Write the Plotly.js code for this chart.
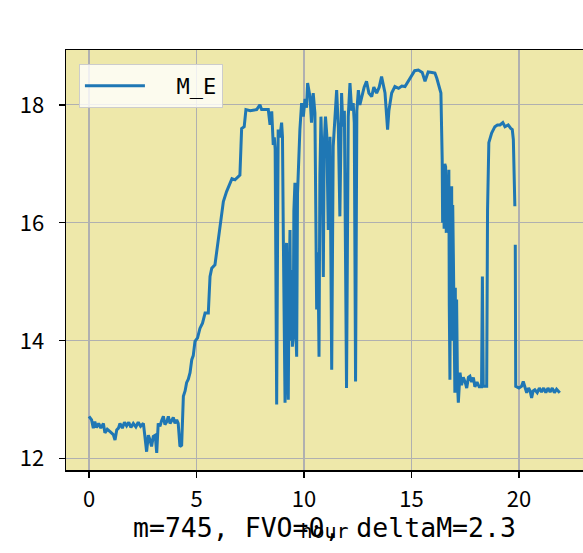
<!DOCTYPE html>
<html>
<head>
<meta charset="utf-8">
<script src="https://cdn.plot.ly/plotly-3.0.1.min.js"></script>
<style>html,body{margin:0;padding:0;background:#fff;}#chart{width:583px;height:553px;}</style>
</head>
<body>
<div id="chart"></div>
<script>
const seriesName = "\u00a0\u00a0M_E";
const hours = [
  0.00,0.12,0.20,0.27,0.35,0.45,0.55,0.67,0.74,0.85,0.98,1.13,1.21,1.29,1.37,1.44,1.55,1.65,1.75,1.85,
  1.95,2.06,2.18,2.29,2.40,2.53,2.60,2.68,2.76,2.84,2.91,2.99,3.08,3.15,3.22,3.30,3.38,3.46,3.53,3.62,
  3.69,3.77,3.85,3.92,4.00,4.08,4.15,4.23,4.31,4.36,4.39,4.47,4.54,4.62,4.70,4.78,4.85,4.93,5.05,5.16,
  5.28,5.40,5.55,5.63,5.71,5.86,5.94,6.09,6.18,6.25,6.40,6.56,6.65,6.79,6.95,7.02,7.07,7.10,7.22,7.30,
  7.50,7.80,7.95,8.03,8.20,8.34,8.42,8.50,8.57,8.62,8.66,8.73,8.80,8.88,8.96,9.00,9.04,9.08,9.12,9.16,
  9.19,9.22,9.27,9.30,9.35,9.38,9.42,9.46,9.50,9.53,9.58,9.62,9.66,9.70,9.74,9.81,9.89,9.97,10.05,10.12,
  10.17,10.28,10.35,10.43,10.51,10.59,10.65,10.70,10.74,10.79,10.85,10.90,10.94,11.00,11.06,11.13,11.21,11.29,11.36,11.44,
  11.52,11.60,11.67,11.75,11.81,11.88,11.98,12.06,12.14,12.22,12.29,12.34,12.40,12.46,12.53,12.60,12.68,12.80,12.91,13.02,
  13.15,13.25,13.38,13.50,13.61,13.70,13.77,13.89,13.95,14.08,14.23,14.40,14.55,14.70,14.85,15.01,15.15,15.32,15.50,15.63,
  15.78,15.95,16.09,16.18,16.25,16.37,16.43,16.45,16.48,16.52,16.55,16.59,16.62,16.64,16.67,16.70,16.74,16.76,16.79,16.82,
  16.84,16.87,16.90,16.92,16.95,16.99,17.02,17.04,17.06,17.10,17.12,17.14,17.18,17.22,17.26,17.33,17.41,17.50,17.57,17.65,
  17.72,17.80,17.88,17.95,18.05,18.15,18.26,18.30,18.34,18.50,18.54,18.60,18.73,18.88,19.00,19.12,19.25,19.35,19.50,19.62,
  19.69,19.74,19.81,19.82,19.83,19.85,20.00,20.12,20.20,20.30,20.36,20.45,20.52,20.59,20.66,20.74,20.85,20.95,21.05,21.15,
  21.25,21.35,21.45,21.55,21.65,21.75,21.90
];
const mE = [
  12.72,12.66,12.52,12.63,12.53,12.60,12.52,12.60,12.44,12.50,12.46,12.41,12.32,12.49,12.52,12.60,12.52,12.62,12.56,12.62,
  12.53,12.60,12.54,12.62,12.55,12.60,12.38,12.12,12.40,12.32,12.21,12.38,12.40,12.10,12.60,12.55,12.65,12.72,12.58,12.63,
  12.72,12.60,12.65,12.70,12.60,12.66,12.60,12.21,12.23,12.70,13.06,13.15,13.29,13.35,13.46,13.68,13.75,13.99,14.05,14.21,
  14.30,14.47,14.47,15.09,15.23,15.29,15.51,15.85,16.10,16.36,16.53,16.67,16.75,16.73,16.79,16.81,17.30,17.60,17.63,17.92,
  17.90,17.92,18.00,17.92,17.92,17.92,17.66,17.89,17.32,17.45,17.25,12.92,17.58,17.45,17.70,17.46,15.76,13.40,12.95,15.50,
  15.66,13.60,13.00,14.80,15.88,14.00,15.20,13.90,14.07,16.20,16.68,14.20,13.73,16.50,17.00,17.58,18.03,17.80,18.10,17.95,
  18.37,18.14,17.70,18.20,17.86,14.53,15.50,13.73,16.80,17.80,17.00,15.08,17.30,17.80,17.50,15.88,17.46,13.51,17.30,17.75,
  18.25,17.60,16.11,18.20,17.63,17.90,13.20,17.80,18.37,17.90,18.03,17.70,13.31,17.90,18.25,18.00,18.14,18.30,18.40,18.20,
  18.14,18.30,18.20,18.30,18.48,18.30,18.20,17.58,17.90,18.20,18.31,18.28,18.32,18.31,18.40,18.51,18.58,18.59,18.55,18.40,
  18.56,18.55,18.54,18.45,18.37,18.20,17.07,16.00,16.90,15.90,17.00,16.95,15.83,16.60,15.90,16.70,16.90,14.60,13.34,16.00,
  16.20,16.62,14.00,16.30,15.43,13.60,13.12,14.90,13.40,14.70,13.80,13.30,12.95,13.40,13.46,13.25,13.38,13.30,13.20,13.38,
  13.40,13.30,13.38,13.22,13.30,13.22,13.22,15.09,13.23,13.23,16.22,17.36,17.52,17.63,17.66,17.66,17.70,17.63,17.66,17.60,
  17.58,17.41,16.28,null,15.63,13.23,13.20,13.23,13.31,13.20,13.12,13.20,13.15,13.03,13.15,13.17,13.12,13.20,13.13,13.20,
  13.12,13.20,13.13,13.20,13.12,13.18,13.12
];
const xTicks = [0, 5, 10, 15, 20];
const yTicks = [12, 14, 16, 18];
const xLabel = "hour";
const noteText = "m=745, FVO=0, deltaM=2.3";

const tickFont = {family: "'Noto Sans CJK SC', 'Noto Sans', sans-serif", size: 22, color: "#000"};
const monoFont = "'DejaVu Sans Mono', 'Liberation Mono', monospace";

const trace = {
  x: hours, y: mE, type: "scatter", mode: "lines", name: seriesName,
  line: {color: "#1f77b4", width: 3}, connectgaps: false
};

const axisCommon = {
  showgrid: true, gridcolor: "#b0b0b0", gridwidth: 1.2,
  showline: true, linecolor: "#000", linewidth: 1.5, mirror: true,
  ticks: "outside", ticklen: 6, tickwidth: 1.3, tickcolor: "#000",
  zeroline: false, tickfont: tickFont, automargin: false
};

const layout = {
  width: 583, height: 553,
  margin: {l: 66, r: 0, t: 50, b: 83, pad: 0},
  paper_bgcolor: "#ffffff", plot_bgcolor: "#eee8aa",
  showlegend: true,
  legend: {
    x: 0.025, y: 0.967, xanchor: "left", yanchor: "top",
    bgcolor: "rgba(255,255,255,0.8)", bordercolor: "#cccccc", borderwidth: 1,
    font: {family: monoFont, size: 22, color: "#000"}, itemwidth: 60
  },
  xaxis: Object.assign({}, axisCommon, {
    range: [-1.07, 22.98], tickmode: "array", tickvals: xTicks, ticktext: xTicks.map(String),
    ticklabelstandoff: 3,
    title: {text: xLabel, font: {family: monoFont, size: 20, color: "#000"}, standoff: 12}
  }),
  yaxis: Object.assign({}, axisCommon, {
    range: [11.81, 18.93], tickmode: "array", tickvals: yTicks, ticktext: yTicks.map(String),
    ticklabelstandoff: 10
  }),
  annotations: [{
    text: noteText, xref: "paper", yref: "paper", x: 0.5, y: -0.138,
    xanchor: "center", yanchor: "middle", showarrow: false,
    font: {family: monoFont, size: 26.5, color: "#000"}
  }]
};

Plotly.newPlot("chart", [trace], layout, {displayModeBar: false, staticPlot: true});
</script>
</body>
</html>
